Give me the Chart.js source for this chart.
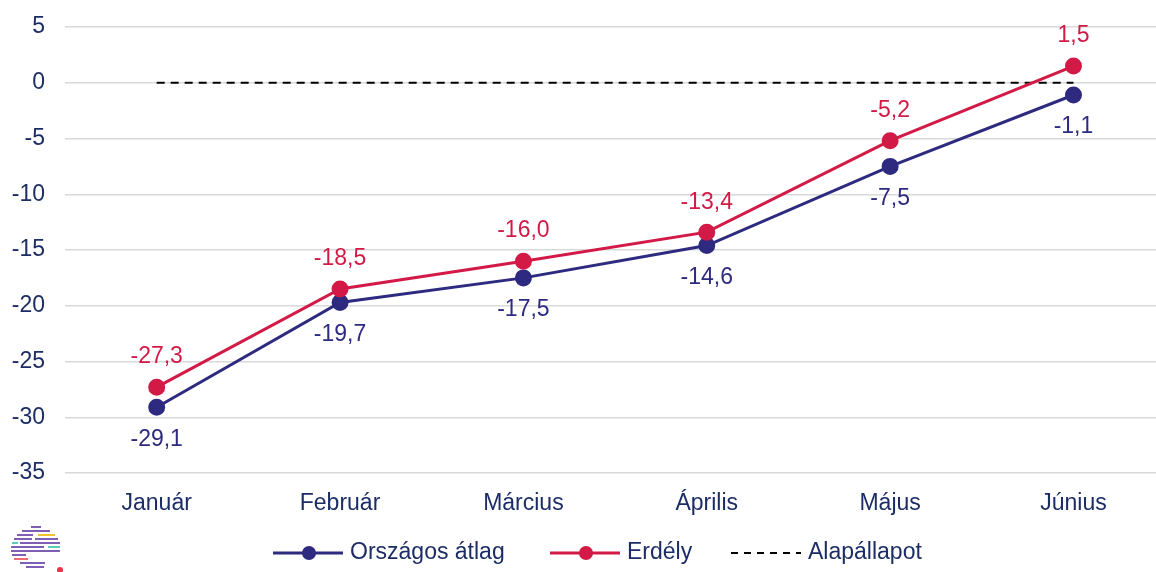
<!DOCTYPE html>
<html>
<head>
<meta charset="utf-8">
<script src="https://cdn.jsdelivr.net/npm/chart.js@4.4.1/dist/chart.umd.min.js"></script>
<style>
    html, body { margin: 0; padding: 0; background: #fff; }
    #wrap { position: relative; width: 1156px; height: 572px; }
</style>
</head>
<body>
<div id="wrap"><canvas id="lineChart" width="1156" height="572"></canvas></div>
<script>
const months = ['Január', 'Február', 'Március', 'Április', 'Május', 'Június'];
const orszagos = [-29.1, -19.7, -17.5, -14.6, -7.5, -1.1];
const erdely = [-27.3, -18.5, -16.0, -13.4, -5.2, 1.5];
const alap = [0, 0, 0, 0, 0, 0];
const yTicks = [5, 0, -5, -10, -15, -20, -25, -30, -35];

const NAVY = '#2e2a80';
const RED = '#d31a47';
const TEXT = '#1c2d66';
const FONT = '"Liberation Sans", Arial, sans-serif';

const toPoints = arr => arr.map((v, i) => ({ x: i, y: v }));

// value labels above (red) / below (navy) the points
const valueLabels = {
    id: 'valueLabels',
    afterDatasetsDraw(chart) {
        const { ctx } = chart;
        ctx.save();
        ctx.font = '23px ' + FONT;
        ctx.textAlign = 'center';
        ctx.textBaseline = 'middle';
        chart.data.datasets.forEach((ds, di) => {
            if (!ds.labelOffset) return;
            chart.getDatasetMeta(di).data.forEach((pt, i) => {
                const v = ds.data[i].y;
                ctx.fillStyle = ds.borderColor;
                ctx.fillText(v.toFixed(1).replace('.', ','), pt.x, pt.y + ds.labelOffset);
            });
        });
        ctx.restore();
    }
};

// legend + logo at the bottom
const bottomLegend = {
    id: 'bottomLegend',
    afterDraw(chart) {
        const { ctx } = chart;
        const y = 553;
        ctx.save();
        ctx.font = '23px ' + FONT;
        ctx.textBaseline = 'middle';
        ctx.textAlign = 'left';

        const items = [
            { x: 273, color: NAVY, text: 'Országos átlag', dot: true },
            { x: 550, color: RED, text: 'Erdély', dot: true },
            { x: 731, color: '#000', text: 'Alapállapot', dot: false }
        ];
        items.forEach(it => {
            ctx.strokeStyle = it.color;
            ctx.lineWidth = it.dot ? 3 : 2;
            ctx.setLineDash(it.dot ? [] : [7, 6]);
            ctx.beginPath();
            ctx.moveTo(it.x, y);
            ctx.lineTo(it.x + 70, y);
            ctx.stroke();
            ctx.setLineDash([]);
            if (it.dot) {
                ctx.fillStyle = it.color;
                ctx.beginPath();
                ctx.arc(it.x + 36, y, 7, 0, Math.PI * 2);
                ctx.fill();
            }
            ctx.fillStyle = TEXT;
            ctx.fillText(it.text, it.x + 77, y);
        });

        // small striped logo
        const stripes = [
            [31, 527, 10, '#7e5fb3'], [22, 531, 28, '#7e5fb3'], [17, 535, 16, '#7e5fb3'], [38, 535, 17, '#f2c230'],
            [14, 539, 18, '#7e5fb3'], [35, 539, 23, '#7e5fb3'], [12, 543, 6, '#5fcab8'], [20, 543, 40, '#7e5fb3'],
            [11, 547, 33, '#7e5fb3'], [48, 547, 12, '#5fcab8'], [11, 551, 49, '#7e5fb3'], [12, 555, 14, '#7e5fb3'],
            [14, 559, 14, '#f06a78'], [20, 563, 25, '#7e5fb3'], [26, 567, 18, '#7e5fb3']
        ];
        ctx.lineWidth = 2;
        stripes.forEach(([sx, sy, w, c]) => {
            ctx.strokeStyle = c;
            ctx.beginPath();
            ctx.moveTo(sx, sy);
            ctx.lineTo(sx + w, sy);
            ctx.stroke();
        });
        ctx.fillStyle = '#e8334a';
        ctx.beginPath();
        ctx.arc(60, 570, 3, 0, Math.PI * 2);
        ctx.fill();
        ctx.restore();
    }
};

const ctx = document.getElementById('lineChart').getContext('2d');
new Chart(ctx, {
    type: 'line',
    data: {
        datasets: [
            {
                label: 'Alapállapot',
                data: toPoints(alap),
                borderColor: '#000',
                borderWidth: 2,
                borderDash: [8, 6],
                pointRadius: 0,
                order: 3
            },
            {
                label: 'Országos átlag',
                data: toPoints(orszagos),
                borderColor: NAVY,
                backgroundColor: NAVY,
                borderWidth: 3,
                pointRadius: 7,
                pointHoverRadius: 7,
                labelOffset: 32,
                order: 2
            },
            {
                label: 'Erdély',
                data: toPoints(erdely),
                borderColor: RED,
                backgroundColor: RED,
                borderWidth: 3,
                pointRadius: 7,
                pointHoverRadius: 7,
                labelOffset: -30,
                order: 1
            }
        ]
    },
    options: {
        responsive: false,
        animation: false,
        layout: { autoPadding: false, padding: { left: 6, right: 0, top: 27, bottom: 46 } },
        plugins: {
            legend: { display: false },
            tooltip: { enabled: false }
        },
        scales: {
            x: {
                type: 'linear',
                min: -0.5,
                max: 5.45,
                grid: { display: false },
                border: { display: false },
                afterBuildTicks: axis => { axis.ticks = months.map((m, i) => ({ value: i })); },
                afterFit: axis => { axis.paddingLeft = 0; axis.paddingRight = 0; axis.height = 53; },
                ticks: {
                    color: TEXT,
                    font: { size: 23, family: FONT },
                    padding: 9,
                    maxRotation: 0,
                    callback: v => months[v]
                }
            },
            y: {
                min: -35,
                max: 5,
                afterBuildTicks: axis => { axis.ticks = yTicks.map(v => ({ value: v })); },
                afterFit: axis => { axis.width = 59; axis.paddingTop = 0; axis.paddingBottom = 0; },
                grid: { color: '#d9d9d9', lineWidth: 1.5, drawTicks: false },
                border: { display: false },
                ticks: {
                    color: TEXT,
                    font: { size: 23, family: FONT },
                    padding: 20
                }
            }
        }
    },
    plugins: [valueLabels, bottomLegend]
});
</script>
</body>
</html>
